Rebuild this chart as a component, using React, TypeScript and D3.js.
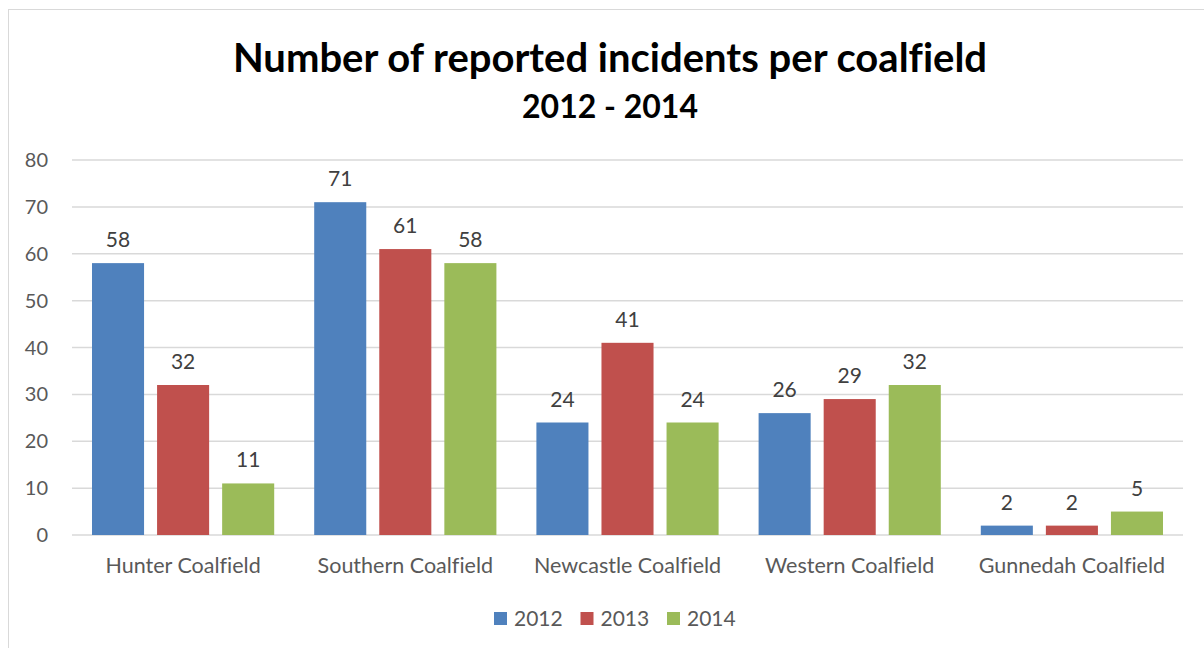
import React from 'react';
import * as d3 from 'd3';

const categories = ['Hunter Coalfield', 'Southern Coalfield', 'Newcastle Coalfield', 'Western Coalfield', 'Gunnedah Coalfield'];
const years = ['2012', '2013', '2014'];
const values2012 = [58, 71, 24, 26, 2];
const values2013 = [32, 61, 41, 29, 2];
const values2014 = [11, 58, 24, 32, 5];
const yTicks = [0, 10, 20, 30, 40, 50, 60, 70, 80];
const colors = ['#4f81bd', '#c0504d', '#9bbb59'];

const font = 'Lato, "Open Sans", sans-serif';

const App: React.FC = () => {
  const width = 1204;
  const height = 648;
  const margin = { top: 160, right: 21, bottom: 113, left: 72 };
  const series = [values2012, values2013, values2014];

  const x = d3
    .scaleBand()
    .domain(categories)
    .range([margin.left, width - margin.right])
    .paddingInner(0.18)
    .paddingOuter(0.09);

  const x1 = d3.scaleBand().domain(years).range([0, x.bandwidth()]).paddingInner(0.2);

  const y = d3
    .scaleLinear()
    .domain([0, 80])
    .range([height - margin.bottom, margin.top]);

  const legendX = d3.scalePoint().domain(years).range([494, 667]);

  return (
    <svg
      width={width}
      height={height}
      style={{ position: 'absolute', left: 0, top: 0, background: '#fff', fontVariantLigatures: 'none' }}
    >
      <rect x={8.5} y={9.5} width={1200} height={650} fill="#fff" stroke="#d9d9d9" />
      <text x={610} y={72} textAnchor="middle" fontFamily={font} fontWeight="bold" fontSize={40} fill="#000">
        Number of reported incidents per coalfield
      </text>
      <text x={610} y={118} textAnchor="middle" fontFamily={font} fontWeight="bold" fontSize={32} fill="#000">
        2012 - 2014
      </text>
      <g>
        {yTicks.map(t => (
          <g key={t}>
            <line x1={margin.left} x2={width - margin.right} y1={y(t)} y2={y(t)} stroke="#d9d9d9" strokeWidth={1.5} />
            <text x={48} y={y(t)} dy="0.35em" textAnchor="end" fontFamily={font} fontSize={20} fill="#595959">
              {t}
            </text>
          </g>
        ))}
      </g>
      {categories.map((c, i) => (
        <g key={c} transform={`translate(${x(c)},0)`}>
          {years.map((yr, j) => (
            <g key={yr}>
              <rect
                x={x1(yr)}
                y={y(series[j][i])}
                width={x1.bandwidth()}
                height={y(0) - y(series[j][i])}
                fill={colors[j]}
              />
              <text
                x={x1(yr)! + x1.bandwidth() / 2}
                y={y(series[j][i]) - 16}
                textAnchor="middle"
                fontFamily={font}
                fontSize={21}
                fill="#404040"
              >
                {series[j][i]}
              </text>
            </g>
          ))}
          <text x={x.bandwidth() / 2} y={573} textAnchor="middle" fontFamily={font} fontSize={21.5} fill="#595959">
            {c}
          </text>
        </g>
      ))}
      <g>
        {years.map((yr, j) => (
          <g key={yr} transform={`translate(${legendX(yr)},0)`}>
            <rect x={0} y={612} width={13} height={13} fill={colors[j]} />
            <text x={20} y={619} dy="0.35em" fontFamily={font} fontSize={21} fill="#595959">
              {yr}
            </text>
          </g>
        ))}
      </g>
    </svg>
  );
};

export default App;
